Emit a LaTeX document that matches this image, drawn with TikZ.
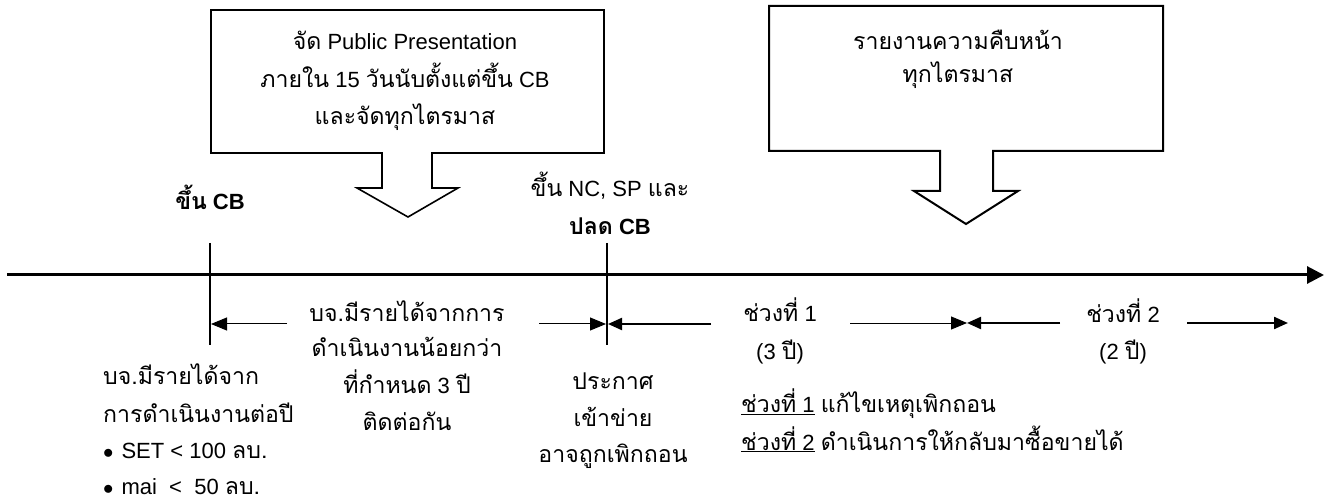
\documentclass[tikz,border=0pt]{standalone}
\usepackage{fontspec}
\setmainfont{Liberation Sans}
\newfontfamily\thai[Script=Thai,Scale=1.05]{Loma}
\usetikzlibrary{arrows.meta}
\tikzset{
  txt/.style={font=\fontsize{22}{37}\selectfont, anchor=base, inner sep=0pt},
  ltxt/.style={txt, anchor=base west},
  callout/.style={draw=black, line width=1.6pt, fill=white, line join=miter},
  tick/.style={line width=1.4pt},
  axis/.style={line width=3pt, -{Triangle[length=17pt,width=17pt]}},
  thinarr/.style={line width=1pt, -{Triangle[length=16pt,width=13pt]}},
  thickarr/.style={line width=2.2pt, -{Triangle[length=14pt,width=12pt]}},
}
\begin{document}
\begin{tikzpicture}[x=1pt,y=-1pt]
\useasboundingbox (0,0) rectangle (1336,502);
% callout boxes
\draw[callout] (211,10) -- (604,10) -- (604,153) -- (432,153) -- (432,188) -- (458,188)
  -- (408,217) -- (357,188) -- (382,188) -- (382,153) -- (211,153) -- cycle;
\draw[callout, line width=2pt] (769,6) -- (1163,6) -- (1163,151) -- (993,151) -- (993,191) -- (1018,191)
  -- (966,224) -- (914,191) -- (940,191) -- (940,151) -- (769,151) -- cycle;
\node[txt] (b1a) at (405,50) {{\thai จัด} Public Presentation};
\node[txt] (b1b) at (405,88) {{\thai ภายใน} 15 {\thai วันนับตั้งแต่ขึ้น} CB};
\node[txt] (b1c) at (405,125) {\thai และจัดทุกไตรมาส};
\node[txt] (b2a) at (958,50) {\thai รายงานความคืบหน้า};
\node[txt] (b2b) at (958,83) {\thai ทุกไตรมาส};
% axis
\coordinate (axL) at (7,275);
\coordinate (axR) at (1324,275);
\draw[axis] (axL) -- (axR);
% ticks
\coordinate (t1top) at (210,243);
\coordinate (t1bot) at (210,345);
\coordinate (t2top) at (607,243);
\coordinate (t2bot) at (607,345);
\draw[tick] (t1top) -- (t1bot);
\draw[tick] (t2top) -- (t2bot);
% labels above axis
\node[txt] (cb) at (210,210) {\bfseries{\thai ขึ้น} CB};
\node[txt] (nc) at (610,197) {{\thai ขึ้น} NC, SP {\thai และ}};
\node[txt] (plod) at (610,235) {\bfseries{\thai ปลด} CB};
% middle text
\node[txt] (m1) at (407,322) {\thai บจ.มีรายได้จากการ};
\node[txt] (m2) at (407,357) {\thai ดำเนินงานน้อยกว่า};
\node[txt] (m3) at (407,394) {{\thai ที่กำหนด} 3 {\thai ปี}};
\node[txt] (m4) at (407,430) {\thai ติดต่อกัน};
% arrows
\coordinate (a1s) at (287,324);
\coordinate (a1e) at (211,324);
\coordinate (a2s) at (539,324);
\coordinate (a2e) at (606,324);
\coordinate (a3s) at (711,324);
\coordinate (a3e) at (608,324);
\coordinate (a4s) at (850,323);
\coordinate (mid) at (967,323);
\coordinate (a5s) at (1060,323);
\coordinate (a6s) at (1187,323);
\coordinate (a6e) at (1288,323);
\draw[thinarr] (a1s) -- (a1e);
\draw[thinarr] (a2s) -- (a2e);
\draw[thickarr] (a3s) -- (a3e);
\draw[thinarr, line width=0.9pt] (a4s) -- (mid);
\draw[thickarr] (a5s) -- (mid);
\draw[thickarr] (a6s) -- (a6e);
\node[txt] (p1) at (780,322) {{\thai ช่วงที่} 1};
\node[txt] (p1y) at (780,360) {(3 {\thai ปี})};
\node[txt] (p2) at (1123,323) {{\thai ช่วงที่} 2};
\node[txt] (p2y) at (1123,360) {(2 {\thai ปี})};
% bottom left
\node[ltxt] (bl1) at (103,385) {\thai บจ.มีรายได้จาก};
\node[ltxt] (bl2) at (103,422) {\thai การดำเนินงานต่อปี};
\node[ltxt] (bl3) at (103,458) {$\bullet$\hspace{8pt}SET < 100 {\thai ลบ.}};
\node[ltxt] (bl4) at (103,494) {$\bullet$\hspace{8pt}mai\ \ <\ \ 50 {\thai ลบ.}};
% announce
\node[txt] (an1) at (613,390) {\thai ประกาศ};
\node[txt] (an2) at (613,427) {\thai เข้าข่าย};
\node[txt] (an3) at (613,462) {\thai อาจถูกเพิกถอน};
% bottom right
\node[ltxt] (br1) at (741,413) {\underline{{\thai ช่วงที่} 1} {\thai แก้ไขเหตุเพิกถอน}};
\node[ltxt] (br2) at (741,450) {\underline{{\thai ช่วงที่} 2} {\thai ดำเนินการให้กลับมาซื้อขายได้}};
\end{tikzpicture}
\end{document}
